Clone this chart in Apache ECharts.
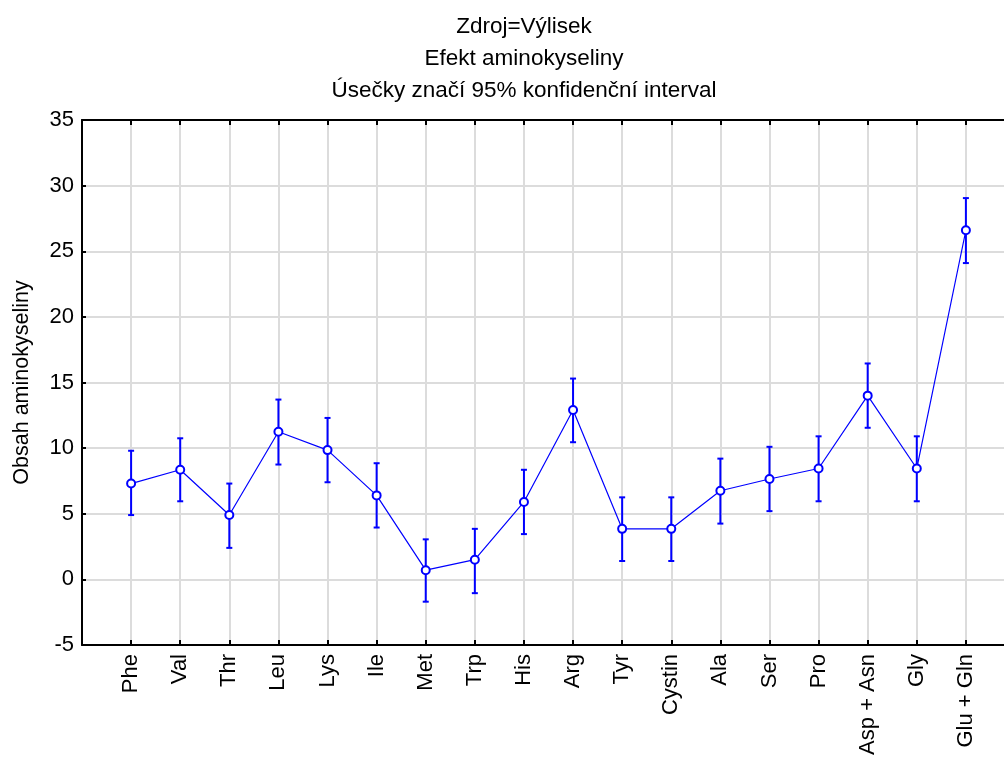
<!DOCTYPE html>
<html>
<head>
<meta charset="utf-8">
<script src="https://cdn.jsdelivr.net/npm/echarts@6/dist/echarts.min.js"></script>
<style>
  html, body { margin: 0; padding: 0; background: #fff; }
  #chart { width: 1004px; height: 763px; }
</style>
</head>
<body>
<div id="chart"></div>
<script>
// aminokyseliny (poradi na ose x)
var categories = ['Phe', 'Val', 'Thr', 'Leu', 'Lys', 'Ile', 'Met', 'Trp', 'His', 'Arg',
  'Tyr', 'Cystin', 'Ala', 'Ser', 'Pro', 'Asp + Asn', 'Gly', 'Glu + Gln'];
// prumery
var means = [7.3, 8.35, 4.9, 11.25, 9.85, 6.4, 0.7, 1.5, 5.9, 12.9,
  3.85, 3.85, 6.75, 7.65, 8.45, 14.0, 8.45, 26.6];
// 95% konfidencni interval - dolni a horni mez
var lower = [4.9, 5.95, 2.4, 8.75, 7.4, 3.95, -1.7, -1.05, 3.45, 10.45,
  1.4, 1.4, 4.25, 5.2, 5.95, 11.55, 5.95, 24.1];
var upper = [9.8, 10.75, 7.3, 13.7, 12.3, 8.85, 3.05, 3.85, 8.35, 15.3,
  6.25, 6.25, 9.2, 10.1, 10.9, 16.45, 10.9, 29.05];
var yTicks = { min: -5, max: 35, step: 5 };

var font = "'Liberation Sans', Arial, sans-serif";
var blue = '#0000ff';

var lineData = means.map(function (v, i) { return [i + 1, v]; });
var barData = means.map(function (v, i) { return [i + 1, lower[i], upper[i]]; });

function xAxisBase(pos) {
  return {
    type: 'value',
    position: pos,
    min: 0,
    max: categories.length + 1,
    interval: 1,
    axisLine: { show: true, onZero: false, lineStyle: { color: '#000', width: 2 } },
    axisTick: { show: true, inside: true, length: 5, lineStyle: { color: '#000', width: 2 } },
    splitLine: { show: pos === 'bottom', lineStyle: { color: '#dcdcdc', width: 2 } },
    axisLabel: {
      show: pos === 'bottom',
      rotate: 90,
      margin: 9,
      fontSize: 22,
      fontFamily: font,
      color: '#000',
      showMinLabel: false,
      showMaxLabel: false,
      formatter: function (v) { return categories[v - 1] || ''; }
    }
  };
}

var chart = echarts.init(document.getElementById('chart'));
chart.setOption({
  animation: false,
  backgroundColor: '#fff',
  title: {
    text: 'Zdroj=Výlisek\nEfekt aminokyseliny\nÚsečky značí 95% konfidenční interval',
    left: 519,
    textAlign: 'center',
    top: 6,
    textStyle: { fontFamily: font, fontSize: 22.5, fontWeight: 'normal', color: '#000', lineHeight: 32 }
  },
  grid: {
    left: 82,
    top: 120,
    width: 933,
    height: 525,
    containLabel: false,
    outerBoundsMode: 'none'
  },
  xAxis: [xAxisBase('bottom'), xAxisBase('top')],
  yAxis: {
    type: 'value',
    min: yTicks.min,
    max: yTicks.max,
    interval: yTicks.step,
    name: 'Obsah aminokyseliny',
    nameLocation: 'middle',
    nameGap: 49,
    nameTextStyle: { fontFamily: font, fontSize: 21.5, color: '#000' },
    axisLine: { show: true, onZero: false, lineStyle: { color: '#000', width: 2 } },
    axisTick: { show: true, inside: true, length: 4, lineStyle: { color: '#000', width: 2 } },
    splitLine: { show: true, lineStyle: { color: '#dcdcdc', width: 2 } },
    axisLabel: { margin: 8, fontSize: 22, fontFamily: font, color: '#000' }
  },
  series: [
    {
      type: 'custom',
      name: 'CI',
      data: barData,
      z: 3,
      renderItem: function (params, api) {
        var x = api.value(0);
        var lo = api.coord([x, api.value(1)]);
        var hi = api.coord([x, api.value(2)]);
        var cap = 3;
        var st = { stroke: blue, lineWidth: 2 };
        return {
          type: 'group',
          children: [
            { type: 'line', shape: { x1: lo[0], y1: lo[1], x2: hi[0], y2: hi[1] }, style: st },
            { type: 'line', shape: { x1: lo[0] - cap, y1: lo[1], x2: lo[0] + cap, y2: lo[1] }, style: st },
            { type: 'line', shape: { x1: hi[0] - cap, y1: hi[1], x2: hi[0] + cap, y2: hi[1] }, style: st }
          ]
        };
      }
    },
    {
      type: 'line',
      name: 'mean',
      data: lineData,
      z: 4,
      symbol: 'emptyCircle',
      symbolSize: 8,
      lineStyle: { color: blue, width: 1.2 },
      itemStyle: { color: blue, borderColor: blue, borderWidth: 1.5 }
    }
  ]
});
</script>
</body>
</html>
